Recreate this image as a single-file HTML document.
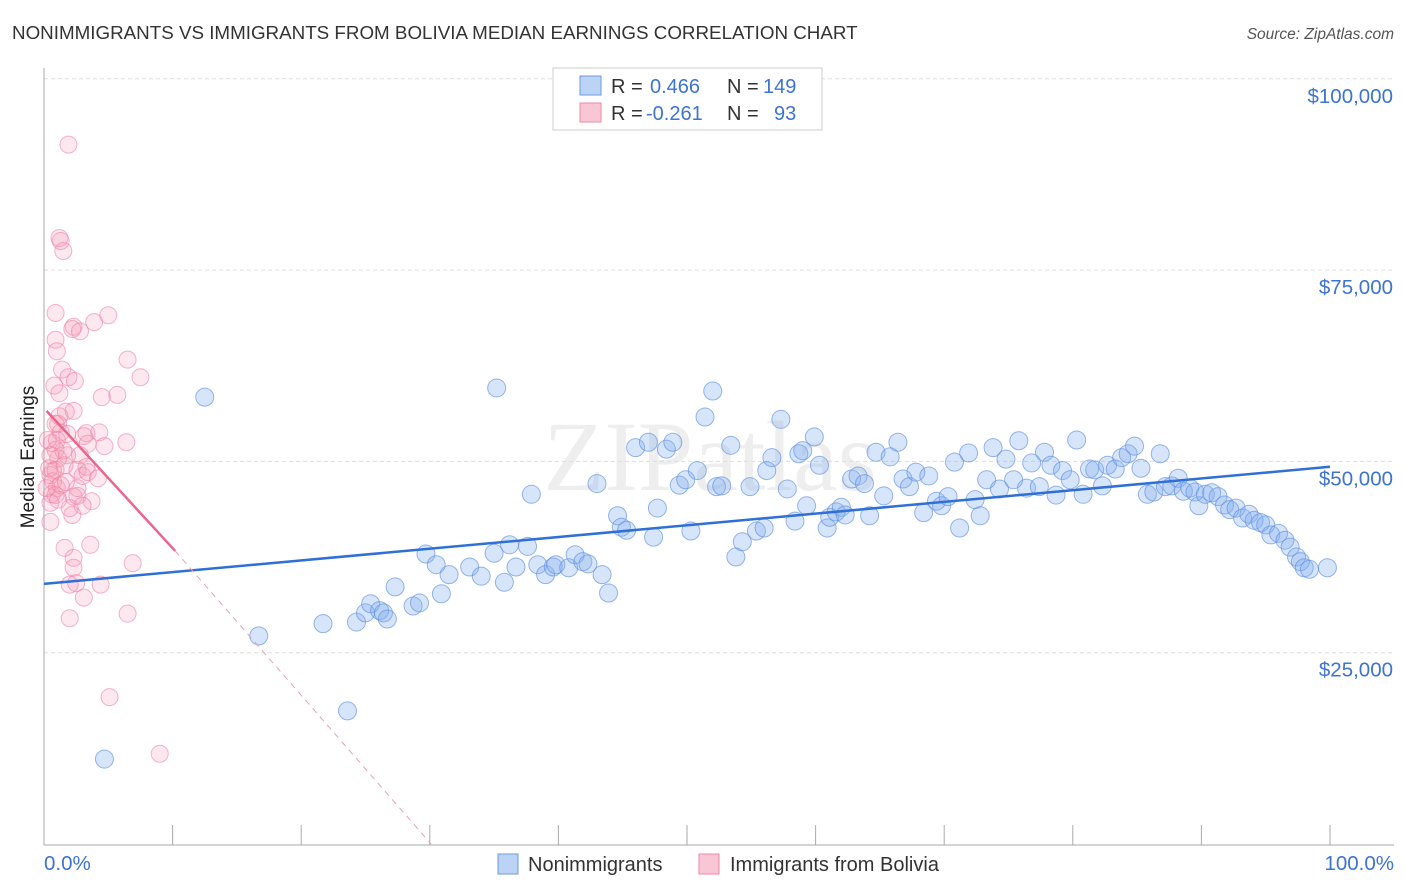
<!DOCTYPE html>
<html><head><meta charset="utf-8"><style>
body{margin:0;background:#fff;font-family:"Liberation Sans",sans-serif;}
svg{display:block}
</style></head><body>
<svg id="chart" width="1406" height="892">
<text x="12" y="39" font-size="18.8" fill="#333">NONIMMIGRANTS VS IMMIGRANTS FROM BOLIVIA MEDIAN EARNINGS CORRELATION CHART</text>
<text x="1394" y="39" font-size="15.5" fill="#555" font-style="italic" text-anchor="end">Source: ZipAtlas.com</text>
<text x="710" y="490" font-size="100" fill="#eee" text-anchor="middle" font-family="Liberation Serif,serif">ZIPatlas</text>
<g id="grid"></g>
<line x1="44" y1="68" x2="44" y2="845" stroke="#aaa"/>
<line x1="44" y1="845" x2="1394" y2="845" stroke="#aaa"/>
<text transform="translate(34,457) rotate(-90)" font-size="19" fill="#222" text-anchor="middle">Median Earnings</text>
<text x="44" y="870" font-size="20.5" fill="#3d74d0">0.0%</text>
<text x="1394" y="870" font-size="20.5" fill="#3d74d0" text-anchor="end">100.0%</text>
<g id="pts"></g>
<g id="lines"></g>
<g>
<rect x="553" y="68" width="269" height="62" fill="#fff" stroke="#ccc"/>
<rect x="580" y="76" width="21" height="19" fill="#bcd3f5" stroke="#6a9be0"/>
<rect x="580" y="103" width="21" height="19" fill="#f8c6d5" stroke="#f08aa8"/>
<g font-size="20">
<text x="611" y="93" fill="#333">R =</text><text x="650" y="93" fill="#3d74d0">0.466</text>
<text x="727" y="93" fill="#333">N =</text><text x="763" y="93" fill="#3d74d0">149</text></g>
<g font-size="20">
<text x="611" y="120" fill="#333">R =</text><text x="646" y="120" fill="#3d74d0">-0.261</text>
<text x="727" y="120" fill="#333">N =</text><text x="774" y="120" fill="#3d74d0">93</text></g>
</g>
<g>
<rect x="498" y="854" width="20" height="20" fill="#bcd3f5" stroke="#6a9be0"/>
<text x="528" y="871" font-size="20" fill="#333">Nonimmigrants</text>
<rect x="699" y="854" width="20" height="20" fill="#f8c6d5" stroke="#f08aa8"/>
<text x="730" y="871" font-size="20" fill="#333">Immigrants from Bolivia</text>
</g>
</svg>
<script>
const yTicks=[25000,50000,75000,100000];
const yTickLabels=["$25,000","$50,000","$75,000","$100,000"];
const xTicks=[0,10,20,30,40,50,60,70,80,90,100];
const blueX=[4.7,12.5,16.7,21.7,23.6,24.3,25.0,25.4,26.1,26.4,26.7,27.3,28.7,29.2,29.7,30.9,30.5,31.5,33.1,34.0,35.0,35.2,35.8,36.2,36.7,37.6,37.9,38.4,39.0,39.6,39.8,40.8,41.3,41.9,42.3,43.0,43.4,43.9,44.6,44.9,45.3,46.0,47.0,47.4,47.7,48.4,48.9,49.4,49.9,50.3,50.8,51.4,52.0,52.3,52.7,53.4,53.8,54.3,54.9,55.4,56.0,56.2,56.6,57.3,57.8,58.4,58.7,59.0,59.3,59.9,60.3,60.9,61.1,61.6,62.0,62.3,62.8,63.3,63.8,64.2,64.7,65.3,65.8,66.4,66.8,67.3,67.8,68.4,68.8,69.4,69.8,70.3,70.8,71.2,71.9,72.4,72.8,73.3,73.8,74.3,74.8,75.4,75.8,76.4,76.8,77.4,77.8,78.3,78.7,79.2,79.8,80.3,80.8,81.3,81.7,82.3,82.7,83.3,83.8,84.3,84.8,85.3,85.8,86.3,86.8,87.2,87.7,88.2,88.6,89.1,89.5,89.8,90.3,90.8,91.3,91.8,92.2,92.7,93.2,93.7,94.1,94.6,95.0,95.4,96.0,96.5,96.9,97.4,97.7,98.0,98.4,99.8];
const blueY=[11100,58400,27200,28800,17400,29000,30200,31400,30500,30200,29400,33600,31100,31500,37900,32700,36500,35200,36200,35000,38000,59600,34200,39100,36200,38900,45700,36500,35200,36200,36500,36100,37800,36900,36600,47100,35200,32800,42900,41400,41000,51800,52500,40100,43900,51600,52500,46900,47600,40900,48800,55800,59200,46700,46800,52100,37500,39500,46700,40900,41300,48800,50500,55500,46400,42200,51000,51400,44200,53200,49500,41300,42700,43400,44000,43000,47700,48100,47100,42900,51200,45500,50600,52500,47700,46700,48600,43300,48100,44800,44200,45400,49900,41300,51100,45000,42900,47600,51800,46400,50300,47600,52700,46500,49800,46700,51200,49500,45600,48800,47600,52800,45700,49000,48900,46800,49500,49000,50500,51000,52000,49100,45700,46000,51000,46700,46800,47800,46100,46500,46000,44200,45700,45900,45400,44300,43700,43900,42600,43100,42300,42000,41700,40400,40600,39700,38800,37500,36900,36100,35900,36100];
const pinkX=[1.9,1.2,1.3,1.5,0.9,2.3,3.9,5.0,2.2,2.8,0.9,1.0,1.4,1.9,2.4,0.8,1.2,1.7,2.3,0.9,1.1,1.3,4.5,5.7,6.5,7.5,3.3,3.1,6.4,4.3,0.6,0.9,1.1,1.5,1.8,2.6,3.0,3.3,0.5,0.7,1.0,0.6,1.3,1.7,2.3,2.6,3.4,4.2,3.7,0.5,0.5,0.7,2.0,3.0,1.6,2.3,2.3,3.6,2.0,2.5,3.1,4.4,2.0,6.5,6.9,5.1,9.0,0.9,0.5,0.4,1.2,0.9,1.0,2.2,1.6,2.8,3.4,1.1,0.2,0.3,1.8,4.7,2.6];
const pinkY=[91400,79200,78800,77500,69400,67600,68200,69100,67300,67000,65900,64400,62000,61000,60500,59900,58900,56500,56600,54900,54900,53800,58400,58700,63300,61000,53700,53300,52500,53800,52400,51500,50400,51400,50800,48900,48100,49300,48200,47400,46500,45700,46900,47300,45400,45500,48600,47800,44800,42100,44600,48800,43900,44200,38700,37400,36100,39100,33900,34100,32200,33900,29500,30100,36700,19200,11800,45600,50800,49100,55900,48900,52800,43000,49500,50800,52300,45000,46500,52800,53600,52000,46500];
const blueTrend=[[0,34000],[100,49300]];
const pinkTrend=[[0.2,56600],[10.2,38300]];
const pinkTrendExt=[[10.2,38300],[30.1,0]];
const NS="http://www.w3.org/2000/svg";
const xs=v=>44+v*12.86;
const ys=v=>844-v/25000*191.3;
function mk(tag,attrs,parent){const e=document.createElementNS(NS,tag);for(const k in attrs)e.setAttribute(k,attrs[k]);document.getElementById(parent).appendChild(e);return e;}
yTicks.forEach((t,i)=>{
 const l=mk('line',{x1:44,x2:1394,y1:ys(t),y2:ys(t),stroke:'#ddd','stroke-dasharray':'4,3'},'grid');
 
 
 const tx=mk('text',{x:1393,y:ys(t)+24,'font-size':20.5,fill:'#3d74d0','text-anchor':'end'},'grid');
 tx.textContent=yTickLabels[i];
 
 
});
xTicks.forEach(t=>{
 const l=mk('line',{x1:xs(t),x2:xs(t),y1:825,y2:845,stroke:'#aaa'},'grid');
 
 
});
pinkX.forEach((x,i)=>{
 const c=mk('circle',{cx:xs(x),cy:ys(pinkY[i]),r:8.5,fill:'rgba(245,150,180,0.22)',stroke:'rgba(238,130,165,0.6)','stroke-width':1},'pts');
 
 
});
blueX.forEach((x,i)=>{
 const c=mk('circle',{cx:xs(x),cy:ys(blueY[i]),r:9,fill:'rgba(130,175,240,0.32)',stroke:'rgba(95,145,225,0.65)','stroke-width':1},'pts');
 
 
});
function line(p,attrs,name){
 const l=mk('line',Object.assign({x1:xs(p[0][0]),y1:ys(p[0][1]),x2:xs(p[1][0]),y2:ys(p[1][1])},attrs),'lines');
 
 
}
line(blueTrend,{stroke:'#2f6fd6','stroke-width':2.5},'nonimmigrants-trendline');
line(pinkTrend,{stroke:'#e8668e','stroke-width':2.5},'bolivia-trendline');
line(pinkTrendExt,{stroke:'#e8a0b5','stroke-width':1,'stroke-dasharray':'6,5'},'bolivia-trendline-extension');
</script>
</body></html>
